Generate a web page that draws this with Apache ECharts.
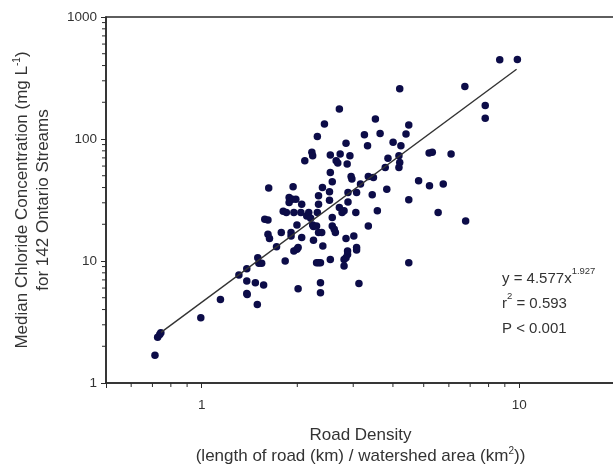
<!DOCTYPE html>
<html><head><meta charset="utf-8">
<script src="https://cdn.jsdelivr.net/npm/echarts@6/dist/echarts.min.js"></script>
<style>html,body{margin:0;padding:0;background:#fff}#c{width:613px;height:465px}</style>
</head><body><div id="c"></div>
<script>
// Road density (km / km2) for each stream
const roadDensity = [
  0.713, 0.727, 0.738, 0.744, 0.994, 1.146, 1.310, 1.387, 1.387, 1.387,
  1.391, 1.476, 1.497, 1.502, 1.514, 1.545, 1.567, 1.580, 1.617, 1.626,
  1.617, 1.635, 1.721, 1.781, 1.806, 1.848, 1.832, 1.885, 1.929, 1.885,
  1.912, 1.912, 1.940, 1.951, 1.951, 1.995, 1.979, 2.012, 1.995, 2.012,
  2.065, 2.053, 2.065, 2.112, 2.142, 2.173, 2.204, 2.223, 2.236, 2.249,
  2.236, 2.249, 2.313, 2.333, 2.333, 2.313, 2.300, 2.333, 2.300, 2.333,
  2.366, 2.366, 2.366, 2.400, 2.387, 2.407, 2.435, 2.526, 2.526, 2.541,
  2.541, 2.541, 2.577, 2.577, 2.577, 2.614, 2.636, 2.651, 2.682, 2.713,
  2.713, 2.729, 2.767, 2.807, 2.807, 2.847, 2.807, 2.847, 2.847, 2.871,
  2.888, 2.888, 2.879, 2.879, 2.929, 2.954, 2.971, 3.013, 3.057, 3.074,
  3.074, 3.074, 3.127, 3.162, 3.253, 3.328, 3.347, 3.347, 3.443, 3.473,
  3.523, 3.573, 3.645, 3.783, 3.826, 3.859, 4.005, 4.178, 4.202, 4.178,
  4.202, 4.238, 4.398, 4.487, 4.487, 4.487, 4.818, 5.200, 5.320, 5.214,
  5.551, 5.760, 6.097, 6.737, 6.776, 7.809, 7.809, 8.675, 9.858
];
// Median chloride concentration (mg/L)
const chloride = [
  1.69, 2.37, 2.50, 2.58, 3.42, 4.84, 7.67, 8.65, 6.85, 5.42,
  5.32, 6.64, 4.40, 10.65, 9.57, 9.57, 6.35, 22.0, 21.7, 39.6,
  16.6, 15.3, 13.1, 17.1, 25.6, 25.0, 10.0, 33.2, 32.1, 30.2,
  17.1, 16.0, 40.6, 25.0, 12.1, 12.5, 32.1, 5.93, 19.7, 12.9,
  29.2, 25.0, 15.6, 66.4, 23.4, 25.0, 22.4, 77.7, 72.9, 19.2,
  19.7, 14.8, 105, 34.2, 29.2, 25.0, 19.4, 17.1, 9.69, 9.69,
  9.69, 6.64, 5.49, 40.1, 17.1, 13.3, 133, 36.9, 31.5, 53.2,
  73.9, 10.3, 44.6, 22.7, 19.4, 18.2, 17.1, 66.4, 63.5, 176,
  27.4, 75.3, 25.0, 25.8, 10.3, 10.65, 9.10, 92.1, 15.3, 62.3,
  36.4, 30.5, 11.3, 12.1, 72.9, 49.3, 46.9, 16.0, 25.0, 36.4,
  12.9, 12.3, 6.55, 42.7, 108.5, 88.1, 19.4, 49.3, 34.9, 48.4,
  146, 25.8, 111, 58.5, 38.8, 69.4, 93.9, 72.9, 64.3, 58.5,
  258, 88.1, 110, 130, 31.7, 9.69, 45.4, 76.7, 77.7, 41.3,
  25.0, 42.7, 75.3, 269, 21.3, 188, 148, 446, 449
];
// Fitted power-law line end points
const trendX = [0.745, 9.8];
const trendY = [2.6, 373];

const xLabels = [1, 10];
const yLabels = [1, 10, 100, 1000];
const xMinorTicks = [0.6, 0.7, 0.8, 0.9, 2, 3, 4, 5, 6, 7, 8, 9];
const yMinorTicks = [2, 3, 4, 5, 6, 7, 8, 9, 20, 30, 40, 50, 60, 70, 80, 90, 200, 300, 400, 500, 600, 700, 800, 900];

const FONT = "'Liberation Sans', Arial, sans-serif";
const AX = '#2a2a2a';
const TXT = '#333';

function labelFmt(list) {
  return function (v) {
    const r = Math.round(v * 1000) / 1000;
    return list.indexOf(r) >= 0 ? String(r) : '';
  };
}

const chart = echarts.init(document.getElementById('c'), null, { renderer: 'canvas' });

const supRich = {
  t: { fontSize: 17, lineHeight: 21, color: TXT, fontFamily: FONT },
  s: { fontSize: 10, lineHeight: 14, verticalAlign: 'top', color: TXT, fontFamily: FONT }
};

chart.setOption({
  animation: false,
  backgroundColor: '#fff',
  grid: {
    left: 106, top: 17, right: -2, bottom: 82,
    outerBoundsMode: 'none', containLabel: false,
    show: true, borderColor: AX, borderWidth: 1.5, backgroundColor: 'transparent'
  },
  xAxis: {
    type: 'log', logBase: 10, min: 0.5, max: 20,
    name: '{t|Road Density}\n{t|(length of road (km) / watershed area (km}{s|2}{t|))}',
    nameLocation: 'middle', nameGap: 42,
    nameTextStyle: { rich: supRich, align: 'center' },
    axisLine: { show: true, lineStyle: { color: AX, width: 1.5 } },
    axisTick: { show: true, length: 5, lineStyle: { color: AX, width: 1 } },
    axisLabel: { formatter: labelFmt(xLabels), fontSize: 13.5, color: TXT, fontFamily: FONT, margin: 15 },
    splitLine: { show: false },
    minorTick: { show: false }
  },
  yAxis: {
    type: 'log', logBase: 10, min: 1, max: 1000,
    name: '{t|Median Chloride Concentration (mg L}{s|-1}{t|)}\n{t|for 142 Ontario Streams}',
    nameLocation: 'middle', nameGap: 52, nameRotate: 90,
    nameTextStyle: { rich: supRich, align: 'center' },
    axisLine: { show: true, lineStyle: { color: AX, width: 1.5 } },
    axisTick: { show: true, length: 5, lineStyle: { color: AX, width: 1 } },
    axisLabel: { formatter: labelFmt(yLabels), fontSize: 13.5, color: TXT, fontFamily: FONT, margin: 9 },
    splitLine: { show: false },
    minorTick: { show: false }
  },
  series: [
    {
      type: 'scatter',
      data: roadDensity.map((x, i) => [x, chloride[i]]),
      symbol: 'circle', symbolSize: 7.5,
      itemStyle: { color: '#0c0c48', opacity: 1 },
      z: 3
    },
    {
      type: 'line',
      data: trendX.map((x, i) => [x, trendY[i]]),
      symbol: 'none',
      lineStyle: { color: '#333', width: 1.4 },
      z: 4
    },
    {
      type: 'custom', silent: true, clip: false,
      data: xMinorTicks.map(v => [v, 1]),
      renderItem: function (params, api) {
        const p = api.coord([api.value(0), api.value(1)]);
        return { type: 'line', shape: { x1: p[0], y1: p[1], x2: p[0], y2: p[1] + 4 }, style: { stroke: AX, lineWidth: 1 } };
      }
    },
    {
      type: 'custom', silent: true, clip: false,
      data: yMinorTicks.map(v => [0.5, v]),
      renderItem: function (params, api) {
        const p = api.coord([api.value(0), api.value(1)]);
        return { type: 'line', shape: { x1: p[0], y1: p[1], x2: p[0] - 4, y2: p[1] }, style: { stroke: AX, lineWidth: 1 } };
      }
    }
  ],
  graphic: [
    {
      type: 'text', left: 502, top: 266,
      style: {
        text: '{t|y = 4.577x}{s|1.927}\n{t|r}{s|2}{t| = 0.593}\n{t|P < 0.001}',
        rich: {
          t: { fontSize: 15, lineHeight: 25, fill: TXT, fontFamily: FONT },
          s: { fontSize: 9.5, lineHeight: 16, verticalAlign: 'top', fill: TXT, fontFamily: FONT }
        }
      }
    }
  ]
});
</script>
</body></html>
